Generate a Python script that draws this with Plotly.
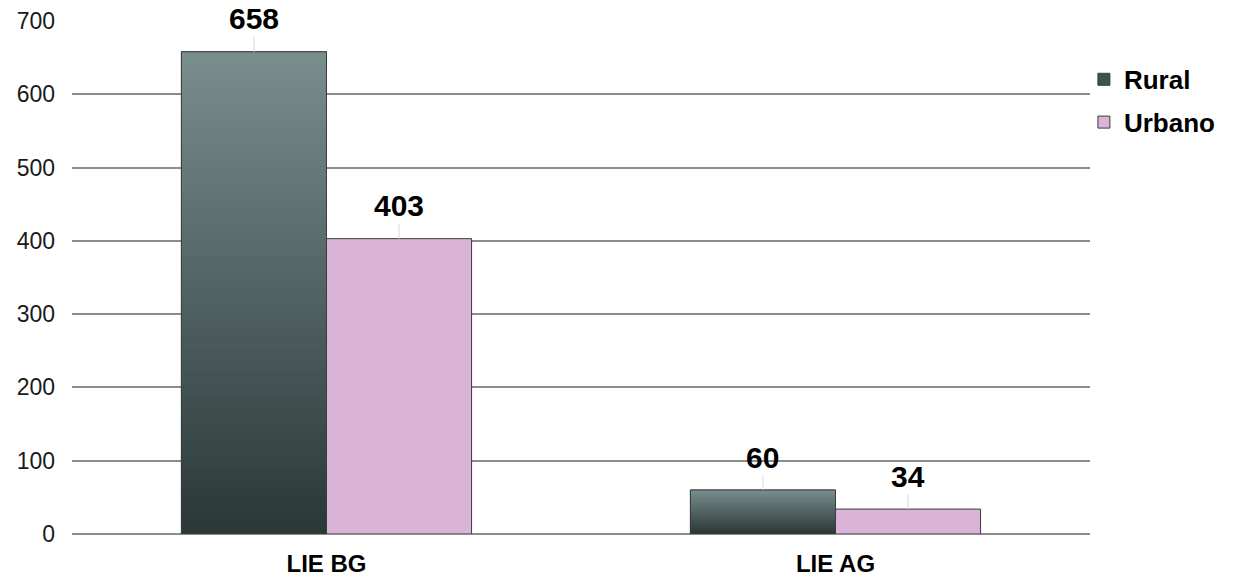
import plotly.graph_objects as go

# Data
categories = ["LIE BG", "LIE AG"]
rural = [658, 60]
urbano = [403, 34]

# Style
rural_top = (0x7a, 0x8e, 0x8e)
rural_bottom = (0x2a, 0x37, 0x37)
rural_legend = "#3e5050"
urbano_color = "#d9b4d6"
edge_color = "#3c3c3c"
grid_color = "#8c8c8c"
font_family = "Liberation Sans, Arial, sans-serif"
bargap = 0.43
n_slices = 80


def mix(c1, c2, t):
    return "rgb({},{},{})".format(*[round(a + (b - a) * t) for a, b in zip(c1, c2)])


fig = go.Figure()

# Rural: solid bar for the legend swatch, then a vertical gradient built from
# overlapping slices (each runs to the bar top, later ones paint over earlier)
fig.add_trace(go.Bar(
    x=categories, y=rural, name="<b>Rural</b>", offsetgroup="rural", legendgroup="rural",
    marker=dict(color=rural_legend, line=dict(color=edge_color, width=1)),
    hoverinfo="skip",
))
for i in range(n_slices):
    t = (i + 0.5) / n_slices
    fig.add_trace(go.Bar(
        x=categories,
        y=[v - v * i / n_slices for v in rural],
        base=[v * i / n_slices for v in rural],
        offsetgroup="rural", legendgroup="rural", showlegend=False, hoverinfo="skip",
        marker=dict(color=mix(rural_bottom, rural_top, t), line=dict(width=0)),
    ))
# Outline on top of the gradient
fig.add_trace(go.Bar(
    x=categories, y=rural, offsetgroup="rural", legendgroup="rural",
    showlegend=False, hoverinfo="skip",
    marker=dict(color="rgba(0,0,0,0)", line=dict(color=edge_color, width=1)),
))

fig.add_trace(go.Bar(
    x=categories, y=urbano, name="<b>Urbano</b>", offsetgroup="urbano", legendgroup="urbano",
    marker=dict(color=urbano_color, line=dict(color=edge_color, width=1)),
    hoverinfo="skip",
))

# Value labels with faint leader lines
half = (1 - bargap) / 4
for idx, cat in enumerate(categories):
    for vals, dx in ((rural, -half), (urbano, half)):
        fig.add_annotation(
            x=idx + dx, y=vals[idx], xref="x", yref="y",
            text=f"<b>{vals[idx]}</b>",
            showarrow=True, arrowhead=0, arrowwidth=1, arrowcolor="#d8d8d8",
            ax=0, ay=-33, standoff=0,
            font=dict(size=30, color="#000000", family=font_family),
        )

fig.update_layout(
    width=1234, height=576,
    margin=dict(l=72, r=144, t=21, b=42, autoexpand=False),
    paper_bgcolor="white", plot_bgcolor="white",
    barmode="group", bargap=bargap, bargroupgap=0,
    font=dict(family=font_family, color="#1a1a1a"),
    legend=dict(
        x=0.994, y=0.932, xanchor="left", yanchor="top",
        font=dict(size=26, color="#000000", family=font_family),
        traceorder="grouped", tracegroupgap=6,
        bgcolor="rgba(0,0,0,0)",
    ),
    showlegend=True,
)
fig.update_xaxes(
    type="category", showgrid=False, showline=False, zeroline=False, ticks="",
    tickfont=dict(size=24, color="#000000", family=font_family),
    ticktext=[f"<b>{c}</b>" for c in categories], tickvals=categories,
    ticklabelstandoff=13,
)
fig.update_yaxes(
    range=[0, 700], dtick=100, showgrid=True, gridcolor=grid_color, gridwidth=1.5,
    zeroline=True, zerolinecolor=grid_color, zerolinewidth=1.5, showline=False,
    ticks="", ticklabelstandoff=16,
    tickfont=dict(size=23, color="#1a1a1a", family=font_family),
)

fig.write_html("out.html")
